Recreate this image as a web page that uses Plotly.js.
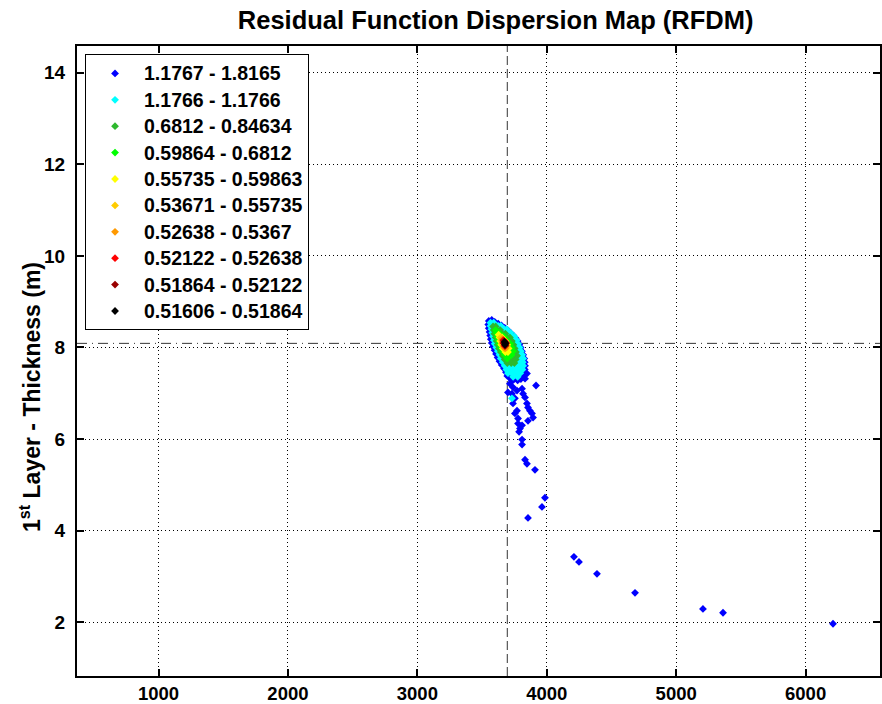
<!DOCTYPE html>
<html>
<head>
<meta charset="utf-8">
<script src="https://cdn.plot.ly/plotly-3.0.1.min.js"></script>
<style>html,body{margin:0;padding:0;background:#fff;}#chart{width:882px;height:704px;}</style>
</head>
<body>
<div id="chart"></div>
<script>
// Legend ranges (residual function value classes)
const classNames = [
  "1.1767 - 1.8165", "1.1766 - 1.1766", "0.6812 - 0.84634", "0.59864 - 0.6812",
  "0.55735 - 0.59863", "0.53671 - 0.55735", "0.52638 - 0.5367", "0.52122 - 0.52638",
  "0.51864 - 0.52122", "0.51606 - 0.51864"
];
const classColors = ["#0000ff", "#00ffff", "#2eb82e", "#00ff00", "#ffff00",
  "#ffcc00", "#ff9900", "#ff0000", "#990000", "#000000"];

// Class 1: 1.1767 - 1.8165 (blue)
const xBlue = [3552,3548,3552,3558,3563,3568,3575,3585,3597,3608,3620,3635,3652,3670,3685,3695,
  3575,3598,3625,3650,3675,3698,
  3720,3742,3760,3775,3788,3798,3808,3818,3826,3830,3832,3830,3826,3815,
  3720,3745,3775,3800,
  3715,3731,3832,3847,3917,3715,3739,3770,3700,3731,3809,3817,3832,3847,3855,3870,3886,3894,
  3855,3754,3739,3770,3754,3778,3778,3793,3809,3786,3809,3809,3832,3847,3909,3986,3963,3855,
  4210,4249,4388,4682,5207,5362,6212];
const yBlue = [8.58,8.50,8.42,8.34,8.26,8.18,8.10,8.02,7.94,7.86,7.78,7.70,7.62,7.54,7.46,7.38,
  8.60,8.56,8.52,8.48,8.43,8.38,
  8.32,8.26,8.20,8.14,8.07,8.00,7.92,7.84,7.76,7.68,7.60,7.52,7.44,7.36,
  7.32,7.30,7.28,7.31,
  7.39,7.28,7.32,7.43,7.17,7.21,7.13,7.06,7.02,6.99,7.10,6.99,6.91,6.78,6.69,6.62,6.56,6.47,
  6.40,6.89,6.78,6.62,6.56,6.45,6.34,6.23,6.30,6.16,5.99,5.88,5.55,5.46,5.33,4.72,4.52,4.28,
  3.43,3.32,3.06,2.645,2.295,2.21,1.97];

// Class 2: 1.1766 - 1.1766 (cyan)
const xCyan = [3565,3590, 3565,3595,3625,3645, 3572,3600,3640,3670,3690, 3578,3610,3660,3695,3720,
  3585,3615,3700,3730,3750, 3592,3620,3725,3755,3768, 3598,3625,3740,3765,3778,
  3610,3635,3750,3775,3790, 3622,3650,3760,3785,3800, 3635,3665,3770,3795,3810,
  3645,3680,3720,3780,3805,3818, 3660,3695,3730,3765,3795,3815, 3675,3705,3740,3775,3805,3818,
  3688,3715,3750,3785,3812, 3700,3730,3765,3795, 3740,3775, 3731];
const yCyan = [8.54,8.54, 8.47,8.47,8.47,8.47, 8.40,8.40,8.40,8.40,8.40, 8.32,8.32,8.32,8.32,8.32,
  8.24,8.24,8.24,8.24,8.24, 8.16,8.16,8.16,8.16,8.16, 8.08,8.08,8.08,8.08,8.08,
  8.00,8.00,8.00,8.00,8.00, 7.92,7.92,7.92,7.92,7.92, 7.84,7.84,7.84,7.84,7.84,
  7.76,7.76,7.76,7.76,7.76,7.76, 7.68,7.68,7.68,7.68,7.68,7.68, 7.60,7.60,7.60,7.60,7.60,7.60,
  7.52,7.52,7.52,7.52,7.52, 7.44,7.44,7.44,7.44, 7.36,7.36, 6.89];

// Class 3: 0.6812 - 0.84634 (green)
const xGreen = [3585,3605, 3590,3615,3640, 3595,3625,3655,3680, 3605,3630,3690,3715,
  3612,3705,3730, 3620,3715,3742, 3630,3725,3752, 3645,3735,3762,
  3660,3690,3745,3770, 3675,3705,3735,3760, 3695,3725,3750];
const yGreen = [8.46,8.46, 8.38,8.38,8.38, 8.30,8.30,8.30,8.30, 8.22,8.22,8.22,8.22,
  8.14,8.14,8.14, 8.06,8.06,8.06, 7.98,7.98,7.98, 7.90,7.90,7.90,
  7.82,7.82,7.82,7.82, 7.74,7.74,7.74,7.74, 7.66,7.66,7.66];

// Class 4: 0.59864 - 0.6812 (lime)
const xLime = [3605, 3610,3632, 3618,3645,3668, 3625,3690, 3632,3700,3718, 3645,3705,3728,
  3660,3690,3718,3740, 3675,3700,3728, 3695];
const yLime = [8.38, 8.32,8.32, 8.24,8.24,8.24, 8.16,8.16, 8.08,8.08,8.08, 8.00,8.00,8.00,
  7.92,7.92,7.92,7.92, 7.84,7.84,7.84, 7.76];

// Class 5: 0.55735 - 0.59863 (yellow)
const xYellow = [3628, 3635,3655, 3640,3680, 3648,3695, 3660,3685,3705, 3680,3700];
const yYellow = [8.28, 8.22,8.22, 8.14,8.14, 8.06,8.06, 7.98,7.98,7.98, 7.90,7.90];

// Class 6: 0.53671 - 0.55735 (gold)
const xGold = [3645, 3650,3668, 3655,3688, 3668,3690];
const yGold = [8.22, 8.16,8.16, 8.08,8.08, 8.00,8.00];

// Class 7: 0.52638 - 0.5367 (orange)
const xOrange = [3657, 3658,3685, 3665,3688, 3678];
const yOrange = [8.18, 8.12,8.12, 8.04,8.04, 7.98];

// Class 8: 0.52122 - 0.52638 (red)
const xRed = [3664, 3664,3685, 3675];
const yRed = [8.16, 8.10,8.10, 8.03];

// Class 9: 0.51864 - 0.52122 (dark red)
const xDarkRed = [3670, 3670,3684, 3680];
const yDarkRed = [8.14, 8.09,8.09, 8.04];

// Class 10: 0.51606 - 0.51864 (black)
const xBlack = [3674, 3680, 3677];
const yBlack = [8.12, 8.09, 8.06];

// Best-fit reference lines
const bestX = 3695;
const bestY = 8.09;

const xTicks = [1000, 2000, 3000, 4000, 5000, 6000];
const yTicks = [2, 4, 6, 8, 10, 12, 14];

const seriesX = [xBlue, xCyan, xGreen, xLime, xYellow, xGold, xOrange, xRed, xDarkRed, xBlack];
const seriesY = [yBlue, yCyan, yGreen, yLime, yYellow, yGold, yOrange, yRed, yDarkRed, yBlack];

const FONT = "Arial, 'Liberation Sans', sans-serif";

const traces = seriesX.map((xs, i) => ({
  type: 'scatter', mode: 'markers', x: xs, y: seriesY[i],
  name: '<span style="font-size:19.5px">' + classNames[i] + '</span>',
  marker: {symbol: 'diamond', size: 6, color: classColors[i], line: {width: 0}},
  hoverinfo: 'x+y+name'
}));

const axisCommon = {
  showline: true, linecolor: '#000', linewidth: 2, mirror: 'ticks',
  ticks: 'inside', ticklen: 7, tickwidth: 2, tickcolor: '#000',
  showgrid: true, gridcolor: '#000', gridwidth: 1, griddash: '1px,3px',
  zeroline: false, automargin: false,
  tickfont: {family: FONT, size: 19, color: '#000', weight: 'bold'}
};

const layout = {
  width: 882, height: 704,
  margin: {l: 77, r: 2, t: 46, b: 28, pad: 0},
  paper_bgcolor: '#fff', plot_bgcolor: '#fff',
  showlegend: true,
  title: {text: 'Residual Function Dispersion Map (RFDM)', xref: 'container', x: 0.562, xanchor: 'center',
          yref: 'container', y: 0.971, yanchor: 'middle',
          font: {family: FONT, size: 25.5, color: '#000', weight: 'bold'}},
  xaxis: Object.assign({}, axisCommon, {range: [370, 6575], tickmode: 'array', tickvals: xTicks,
          ticktext: xTicks.map(String), ticklabelstandoff: 0,
          tickfont: {family: FONT, size: 18.5, color: '#000', weight: 'bold'}}),
  yaxis: Object.assign({}, axisCommon, {range: [0.83, 14.58], tickmode: 'array', tickvals: yTicks,
          ticktext: yTicks.map(String), ticklabelstandoff: 6}),
  legend: {x: 0.01, y: 0.987, xanchor: 'left', yanchor: 'top', bgcolor: '#fff',
           bordercolor: '#000', borderwidth: 1, itemwidth: 48, tracegroupgap: 0,
           font: {family: FONT, size: 18, color: '#000', weight: 'bold'}},
  shapes: [
    {type: 'line', xref: 'x', yref: 'paper', x0: bestX, x1: bestX, y0: 0, y1: 1, layer: 'below',
     line: {color: '#333', width: 1, dash: '9px,4px'}},
    {type: 'line', xref: 'paper', yref: 'y', x0: 0, x1: 1, y0: bestY, y1: bestY, layer: 'below',
     line: {color: '#333', width: 1, dash: '10px,5px,1px,5px'}}
  ],
  annotations: [
    {text: '1<sup>st</sup> Layer - Thickness (m)', xref: 'paper', yref: 'paper',
     x: -0.0585, y: 0.443, xanchor: 'center', yanchor: 'middle', textangle: -90, showarrow: false,
     font: {family: FONT, size: 23, color: '#000', weight: 'bold'}}
  ]
};

Plotly.newPlot('chart', traces, layout, {displayModeBar: false, staticPlot: true});
</script>
</body>
</html>
